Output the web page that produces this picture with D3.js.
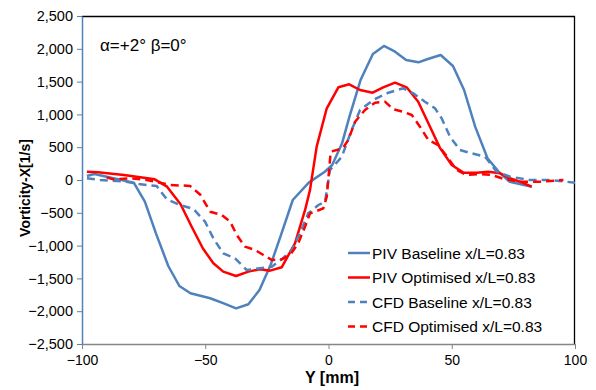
<!DOCTYPE html>
<html>
<head>
<meta charset="utf-8">
<script src="https://cdn.jsdelivr.net/npm/d3@7"></script>
<style>
  body { margin: 0; background: #fff; }
  svg text { font-family: "Liberation Sans", Arial, sans-serif; }
</style>
</head>
<body>
<svg id="chart" width="596" height="390"></svg>
<script>
'use strict';

// x tick labels and y tick values
var xTicks = [-100, -50, 0, 50, 100];
var yTicks = [-2500, -2000, -1500, -1000, -500, 0, 500, 1000, 1500, 2000, 2500];

// series names
var seriesNames = [
  'PIV Baseline x/L=0.83',
  'PIV Optimised x/L=0.83',
  'CFD Baseline x/L=0.83',
  'CFD Optimised x/L=0.83'
];

// PIV baseline [Y mm, vorticity]
var pivBaseline = [
  [-98, 61], [-95, 91], [-79, -41], [-74.5, -330], [-70, -813], [-65, -1311],
  [-60.5, -1616], [-56, -1727], [-48, -1803], [-42.5, -1880], [-37.5, -1956],
  [-32.5, -1895], [-28, -1677], [-23.5, -1296], [-19.5, -864], [-14.5, -305],
  [-8, -40], [-1.5, 126], [1.5, 229], [5.5, 559], [8.5, 965], [13, 1524],
  [18, 1921], [22.5, 2043], [27, 1956], [31.5, 1829], [36.5, 1794], [40, 1840],
  [45.5, 1905], [50.5, 1738], [55, 1372], [59.5, 813], [64.5, 331], [69, 127],
  [73.5, -26], [82.5, -102]
];

// PIV optimised
var pivOptimised = [
  [-98, 127], [-93.5, 117], [-83, 76], [-70.5, 10], [-65.5, -102], [-60, -370],
  [-55.5, -712], [-51, -1041], [-46.7, -1270], [-42.7, -1397], [-37.5, -1463],
  [-32.5, -1397], [-27.8, -1361], [-23.7, -1382], [-19, -1331], [-13.6, -965],
  [-9.5, -457], [-7.5, -150], [-4.8, 508], [-0.7, 1093], [4, 1413], [8.4, 1459],
  [12.8, 1372], [17.9, 1331], [22.2, 1413], [27, 1484], [31.7, 1413],
  [36.4, 1194], [40.7, 850], [45.2, 490], [50, 229], [54.7, 112], [60.1, 112],
  [64.8, 127], [69.6, 102], [73.6, 26], [77.7, -26], [82.4, -102]
];

// CFD baseline
var cfdBaseline = [
  [-98, 26], [-92.7, 0], [-82, -26], [-77.2, -61], [-69.7, -91], [-65.6, -294],
  [-60.2, -381], [-54.8, -440], [-50.1, -635], [-46.7, -889], [-42.7, -1118],
  [-37.9, -1194], [-33.2, -1372], [-27.8, -1347], [-23, -1321], [-19, -1209],
  [-14.9, -1067], [-11.6, -813], [-8.2, -508], [-4.1, -381], [-1.4, -330],
  [0.6, 152], [5.4, 355], [9.4, 762], [12.8, 1067], [18.2, 1220], [24.3, 1331],
  [30.3, 1398], [34.4, 1321], [39.1, 1194], [43.2, 1093], [45.9, 940],
  [49.3, 660], [53.3, 457], [58.1, 407], [63.5, 355], [68.2, 127], [73.6, 51],
  [81.7, 0], [89.9, 0], [100, -41]
];

// CFD optimised
var cfdOptimised = [
  [-90, 40], [-87.3, 10], [-80.5, 26], [-73.8, 0], [-68.4, -41], [-64.3, -76],
  [-56.2, -90], [-52.1, -220], [-48, -483], [-43.3, -533], [-39.9, -635],
  [-37.2, -838], [-33.9, -1016], [-29.8, -1067], [-26.4, -1143], [-23, -1220],
  [-19, -1209], [-15.6, -1143], [-12.3, -965], [-9.5, -711], [-7.5, -508],
  [-5.5, -483], [-2.1, -432], [-0.7, -254], [0.9, 432], [5.8, 483], [8, 610],
  [10.8, 889], [14.8, 1067], [18.9, 1179], [22.9, 1194], [26.3, 1077],
  [30.3, 1041], [33.8, 991], [37.1, 813], [40.5, 610], [44.5, 533],
  [48.6, 331], [52, 152], [56.1, 76], [61.5, 91], [66.2, 76], [70.3, 26],
  [77, -26], [81.7, -26], [85.8, -26], [95.3, 0]
];

var blue = '#4f81bd';
var red = '#ff0000';

var series = [
  { name: seriesNames[0], data: pivBaseline, color: blue, dash: null },
  { name: seriesNames[1], data: pivOptimised, color: red, dash: null },
  { name: seriesNames[2], data: cfdBaseline, color: blue, dash: '8,5' },
  { name: seriesNames[3], data: cfdOptimised, color: red, dash: '8,5' }
];

var svg = d3.select('#chart');
var margin = { left: 82, right: 21, top: 16, bottom: 46 };
var width = 596 - margin.left - margin.right;
var height = 390 - margin.top - margin.bottom;

var x = d3.scaleLinear().domain([-100, 100]).range([0, width]);
var y = d3.scaleLinear().domain([-2500, 2500]).range([height, 0]);

var g = svg.append('g')
  .attr('transform', 'translate(' + margin.left + ',' + margin.top + ')');

// plot frame: top and right black
g.append('line').attr('x1', 0).attr('x2', width).attr('y1', 0.5).attr('y2', 0.5)
  .attr('stroke', '#000').attr('stroke-width', 1.3);
g.append('line').attr('x1', width - 0.5).attr('x2', width - 0.5).attr('y1', 0).attr('y2', height)
  .attr('stroke', '#000').attr('stroke-width', 1.3);

// x axis (gray)
var xAxis = g.append('g')
  .attr('transform', 'translate(0,' + height + ')')
  .call(d3.axisBottom(x).tickValues(xTicks).tickSizeOuter(0).tickSizeInner(5).tickPadding(6));
xAxis.select('.domain').attr('stroke', '#868686').attr('stroke-width', 1.3);
xAxis.selectAll('.tick line').attr('stroke', '#868686');
xAxis.selectAll('text').attr('font-size', 14).attr('fill', '#000')
  .style('font-family', '"Liberation Sans", Arial, sans-serif');

// y axis (blue)
var yAxis = g.append('g')
  .call(d3.axisLeft(y).tickValues(yTicks).tickSizeOuter(0).tickSizeInner(5).tickPadding(4)
    .tickFormat(d3.format(',')));
yAxis.select('.domain').attr('stroke', blue).attr('stroke-width', 1.5);
yAxis.selectAll('.tick line').attr('stroke', blue);
yAxis.selectAll('text').attr('font-size', 14.5).attr('fill', '#000')
  .style('font-family', '"Liberation Sans", Arial, sans-serif');

// lines
var line = d3.line().x(function(d){ return x(d[0]); }).y(function(d){ return y(d[1]); });

series.forEach(function(s){
  g.append('path')
    .datum(s.data)
    .attr('d', line)
    .attr('fill', 'none')
    .attr('stroke', s.color)
    .attr('stroke-width', 2.5)
    .attr('stroke-linejoin', 'round')
    .attr('stroke-dasharray', s.dash);
});

// annotation
g.append('text')
  .attr('x', 18).attr('y', 35)
  .attr('font-size', 17)
  .text('\u03b1=+2\u00b0 \u03b2=0\u00b0');

// legend
var legend = g.append('g').attr('transform', 'translate(266,237)');
series.forEach(function(s, i){
  var row = legend.append('g').attr('transform', 'translate(0,' + (i * 24.5) + ')');
  row.append('line')
    .attr('x1', 0).attr('x2', 22).attr('y1', 0).attr('y2', 0)
    .attr('stroke', s.color).attr('stroke-width', 2.5)
    .attr('stroke-dasharray', s.dash ? '7,5' : null);
  row.append('text')
    .attr('x', 24).attr('y', 5.5)
    .attr('font-size', 15.5)
    .text(s.name);
});

// axis titles
svg.append('text')
  .attr('x', 332).attr('y', 383)
  .attr('text-anchor', 'middle')
  .attr('font-size', 16).attr('font-weight', 'bold')
  .text('Y [mm]');

svg.append('text')
  .attr('transform', 'translate(30,188) rotate(-90)')
  .attr('text-anchor', 'middle')
  .attr('font-size', 14).attr('font-weight', 'bold')
  .text('Vorticity-X[1/s]');
</script>
</body>
</html>
